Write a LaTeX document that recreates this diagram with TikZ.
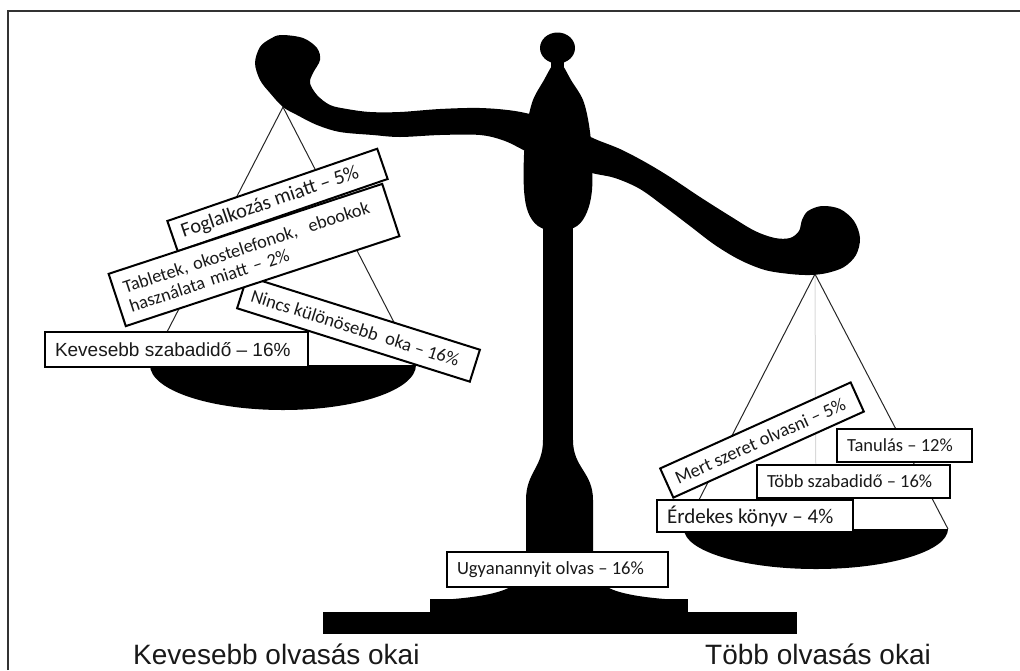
\documentclass[tikz,border=0pt]{standalone}
\usepackage{fontspec}
\setmainfont{Carlito}
\newfontfamily\arialf{Liberation Sans}
\newcommand{\lline}[2]{\makebox[#1][l]{#2}}
\begin{document}
\begin{tikzpicture}[x=1pt,y=-1pt,
  lbl/.style={draw=black, line width=2pt, fill=white, inner xsep=10pt, inner ysep=0pt, align=left, text=black!90},
  cord/.style={draw=black!85, line width=1pt},
  ttl/.style={anchor=base west, inner sep=0pt, text=black!90, font=\arialf\fontsize{28}{32}\selectfont}]
\useasboundingbox (0,0) rectangle (1020,670);
% frame
\draw[line width=1.6pt, black!80] (8,670) -- (8,11) -- (1020,11);

% left pan
\coordinate (lhook) at (283,107);
\coordinate (lrimL) at (150,365);
\coordinate (lrimR) at (416,365);
\draw[cord] (lrimL) -- (lhook) -- (lrimR);
\fill (lrimL) .. controls (150,390) and (209.5,410) .. (283,410) .. controls (356.5,410) and (416,390) .. (lrimR) -- cycle;

% right pan
\coordinate (rhook) at (815,274);
\coordinate (rrimL) at (684,529);
\coordinate (rrimR) at (948,529);
\coordinate (rrimC) at (816,529);
\draw[line width=1pt, black!15] (rhook) -- (rrimC);
\draw[cord] (rrimL) -- (rhook) -- (rrimR);
\fill (rrimL) .. controls (684,551) and (743,569) .. (816,569) .. controls (889,569) and (948,551) .. (rrimR) -- cycle;

% beam
\fill plot[smooth cycle, tension=0.55] coordinates {
 (255,63) (260,47) (270,39) (281,35) (303,38) (317,48) (320,60) (313,73) (310,83)
 (317,95) (330,105) (347,109) (370,112) (400,112) (440,109) (480,108) (515,111)
 (545,118) (570,127) (595,139) (620,149) (645,162) (670,177) (700,197) (730,216)
 (755,231) (775,238) (790,238) (799,231) (802,220) (808,211) (822,206) (840,209)
 (854,221) (860,238) (856,255) (844,267) (827,273) (810,275) (790,274) (765,270)
 (740,260) (715,245) (690,226) (665,207) (640,189) (615,178) (592,173) (560,163)
 (530,153) (505,141) (480,135) (440,135) (400,137) (373,135) (340,132) (317,125)
 (297,115) (283,107) (270,93) (260,80)};

% column
\fill (557.5,48) ellipse [x radius=17.5, y radius=15.5];
\fill (551,58) rectangle (564,76);
\fill plot[smooth cycle, tension=0.55] coordinates {
 (552,66) (544,80) (533,100) (527,125) (524,155) (524,190) (528,212) (538,226)
 (557,232) (577,226) (587,212) (592,190) (592,155) (589,125) (583,100) (571,80) (563,66) (557.5,64)};
\fill (543,220) rectangle (573,460);
\fill (543,440) .. controls (543,468) and (526,472) .. (526,500) -- (526,575)
  -- (593,575) -- (593,500) .. controls (593,472) and (573,468) .. (573,440) -- cycle;
\fill (526,565) .. controls (524,588) and (500,596) .. (440,600) -- (678,600)
  .. controls (617,596) and (593,588) .. (593,565) -- cycle;
\fill (430,599) rectangle (688,613);
\fill (323,612) rectangle (797,634);

% left labels
\node[lbl, font=\arialf\fontsize{19}{22}\selectfont, minimum height=35pt] (kev) at (176.5,349.5) {\lline{243pt}{Kevesebb szabadidő – 16\%}};
\node[lbl, font=\fontsize{18.5}{21}\selectfont, rotate=-17.5, minimum height=33.5pt] (nin) at (358.5,329) {\lline{224pt}{Nincs különösebb~ oka – 16\%}};
\node[lbl, font=\fontsize{20.5}{24}\selectfont, rotate=19, minimum height=32pt] (fog) at (277.5,200) {\lline{202pt}{Foglalkozás miatt – 5\%}};
\node[lbl, font=\fontsize{18.3}{20}\selectfont, rotate=18.2, text width=268pt, minimum height=55pt] (tab) at (254,255) {Tabletek, okostelefonok,~ ebookok\\használata miatt – 2\%};

% right labels
\node[lbl, font=\fontsize{21}{24}\selectfont, minimum height=32pt] (erd) at (755,516) {\lline{176pt}{Érdekes könyv – 4\%}};
\node[lbl, font=\fontsize{18.5}{21}\selectfont, minimum height=33pt] (tob) at (853.5,481.5) {\lline{173pt}{Több szabadidő – 16\%}};
\node[lbl, font=\fontsize{18.5}{21}\selectfont, minimum height=33pt] (tan) at (904.5,445.5) {\lline{115pt}{Tanulás – 12\%}};
\node[lbl, font=\fontsize{18.7}{21}\selectfont, rotate=24.3, minimum height=32pt] (mert) at (762,440) {\lline{189pt}{Mert szeret olvasni – 5\%}};

% centre label
\node[lbl, font=\fontsize{18.6}{21}\selectfont, minimum height=35pt] (ugy) at (557.5,569.5) {\lline{201pt}{Ugyanannyit olvas – 16\%}};

% titles
\node[ttl] (t1) at (133,664) {Kevesebb olvasás okai};
\node[ttl] (t2) at (705,664) {Több olvasás okai};
\end{tikzpicture}
\end{document}
